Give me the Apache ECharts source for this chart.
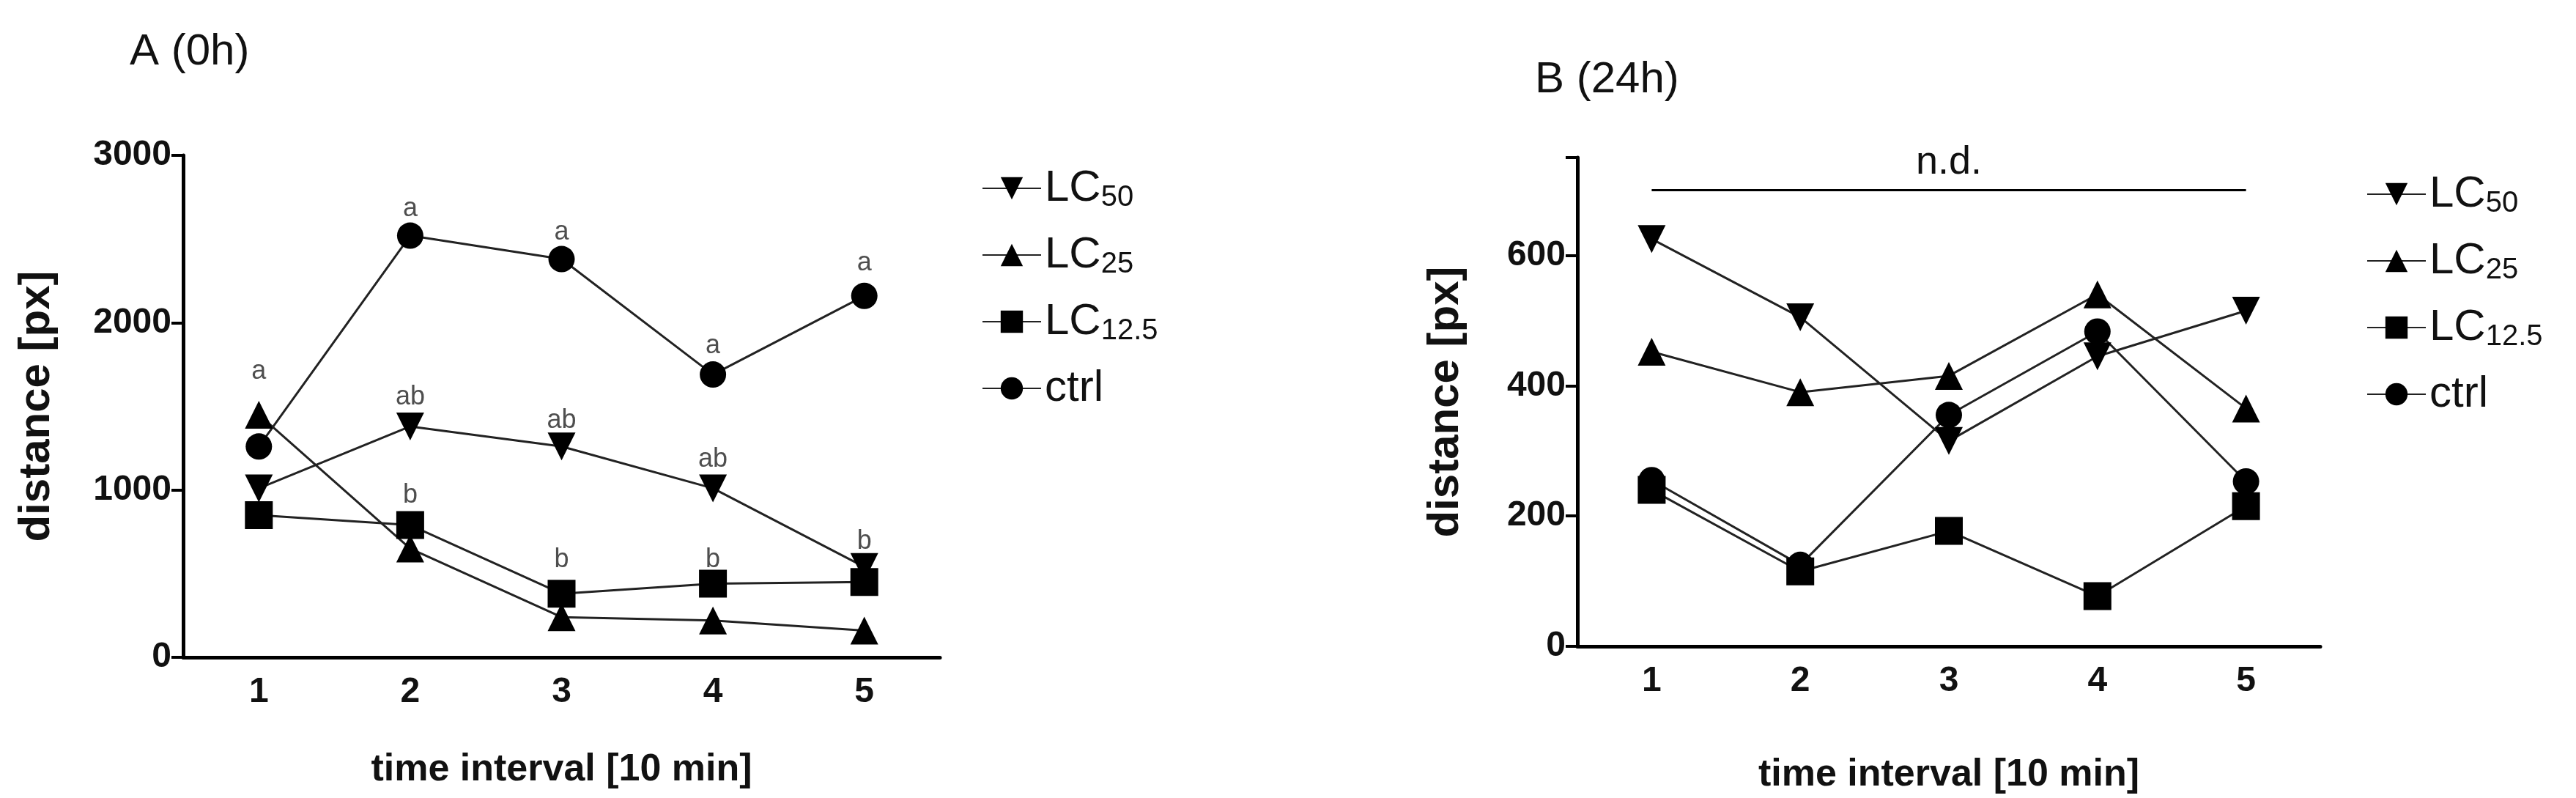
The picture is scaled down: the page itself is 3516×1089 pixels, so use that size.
<!DOCTYPE html>
<html lang="en">
<head>
<meta charset="UTF-8">
<script src="https://cdn.jsdelivr.net/npm/echarts@6/dist/echarts.min.js"></script>
<title>distance</title>
<style>html,body{margin:0;background:#fff}#main{width:3516px;height:1089px}</style>
</head>
<body>
<div id="main"></div>
<script>
var categories = ['1', '2', '3', '4', '5'];
var names = ['LC50', 'LC25', 'LC12.5', 'ctrl'];
// panel A (0h)
var a_lc50 = [1010, 1380, 1260, 1010, 540];
var a_lc25 = [1450, 650, 240, 220, 160];
var a_lc125 = [850, 790, 380, 440, 450];
var a_ctrl = [1260, 2520, 2380, 1690, 2160];
// significance letters for A: [category, y, text]
var a_letters = [['1', 1708, 'a'], ['2', 2680, 'a'], ['2', 1555, 'ab'], ['2', 968, 'b'],
  ['3', 2540, 'a'], ['3', 1415, 'ab'], ['3', 582, 'b'], ['4', 1861, 'a'], ['4', 1183, 'ab'],
  ['4', 582, 'b'], ['5', 2356, 'a'], ['5', 692, 'b']];
// panel B (24h)
var b_lc50 = [625, 505, 315, 445, 515];
var b_lc25 = [452, 390, 415, 540, 365];
var b_lc125 = [240, 115, 177, 77, 215];
var b_ctrl = [255, 125, 355, 483, 253];
var b_nd = 700;

var symbols = ['triangle', 'triangle', 'rect', 'circle'];
var rotates = [180, 0, 0, 0];

var font = '"Liberation Sans", Arial, sans-serif';
var narrow = '"Liberation Sans Narrow", "Liberation Sans", Arial, sans-serif';

function legendFmt(n) {
  if (n === 'ctrl') return '{m|ctrl}';
  return '{m|LC}{s|' + n.slice(2) + '}';
}

function makeSeries(sets, idx) {
  return sets.map(function (d, i) {
    return {
      name: names[i], type: 'line', data: d, xAxisIndex: idx, yAxisIndex: idx,
      symbol: symbols[i], symbolRotate: rotates[i], symbolSize: i === 3 ? 36 : 38,
      itemStyle: {color: '#000'}, lineStyle: {color: '#222', width: 3},
      z: 3
    };
  });
}

function xAx(idx, title) {
  return {
    type: 'category', gridIndex: idx, data: categories, boundaryGap: true,
    name: title, nameLocation: 'middle', nameGap: idx === 0 ? 128 : 150,
    nameTextStyle: {fontFamily: font, fontWeight: 'bold', fontSize: 52, color: '#111'},
    axisLine: {lineStyle: {color: '#000', width: 5}},
    axisTick: {alignWithLabel: true, length: 16, lineStyle: {color: '#000', width: 4}},
    axisLabel: {fontFamily: font, fontWeight: 'bold', fontSize: 48, color: '#111', margin: 24}
  };
}
function yAx(idx, max, interval) {
  return {
    type: 'value', gridIndex: idx, min: 0, max: max, interval: interval,
    name: 'distance [px]', nameLocation: 'middle', nameGap: idx === 0 ? 170 : 150,
    nameTextStyle: {fontFamily: font, fontWeight: 'bold', fontSize: 60, color: '#111'},
    splitLine: {show: false},
    axisLine: {show: true, lineStyle: {color: '#000', width: 5}},
    axisTick: {show: true, length: 16, lineStyle: {color: '#000', width: 4}},
    axisLabel: {fontFamily: font, fontWeight: 'bold', fontSize: 48, color: '#111', margin: 16,
      formatter: function (v) { return v > max - 1 && max % interval !== 0 ? '' : v; }}
  };
}

var rich = {m: {fontFamily: narrow, fontSize: 60, color: '#111'},
  s: {fontFamily: narrow, fontSize: 40, color: '#111', verticalAlign: 'bottom', padding: [26, 0, 0, 0]}};

var seriesA = makeSeries([a_lc50, a_lc25, a_lc125, a_ctrl], 0);
seriesA.push({
  type: 'scatter', xAxisIndex: 0, yAxisIndex: 0, symbolSize: 0, silent: true,
  data: a_letters.map(function (l) { return {value: [l[0], l[1]], label: {formatter: l[2]}}; }),
  label: {show: true, position: 'inside', fontFamily: narrow, fontSize: 36, color: '#222'}
});
var seriesB = makeSeries([b_lc50, b_lc25, b_lc125, b_ctrl], 1);
seriesB[0].markLine = {
  symbol: 'none', silent: true,
  lineStyle: {color: '#000', width: 3, type: 'solid'},
  label: {show: true, position: 'middle', formatter: 'n.d.', fontFamily: narrow, fontSize: 54, color: '#111', distance: 10},
  data: [[{coord: ['1', b_nd]}, {coord: ['5', b_nd]}]]
};

var chart = echarts.init(document.getElementById('main'));
chart.setOption({
  backgroundColor: '#fff',
  animation: false,
  title: [
    {text: 'A (0h)', left: 172, top: 36, textStyle: {fontFamily: narrow, fontWeight: 'normal', fontSize: 60, color: '#111'}},
    {text: 'B (24h)', left: 2090, top: 74, textStyle: {fontFamily: narrow, fontWeight: 'normal', fontSize: 60, color: '#111'}}
  ],
  grid: [
    {left: 250, top: 212, width: 1033, height: 685},
    {left: 2153, top: 215, width: 1014, height: 678}
  ],
  xAxis: [xAx(0, 'time interval [10 min]'), xAx(1, 'time interval [10 min]')],
  yAxis: [yAx(0, 3000, 1000), yAx(1, 750, 200)],
  legend: [
    {left: 1335, top: 222, orient: 'vertical', itemGap: 28, itemWidth: 80, itemHeight: 38,
      data: names, formatter: legendFmt, textStyle: {rich: rich}, selectedMode: false},
    {left: 3225, top: 230, orient: 'vertical', itemGap: 28, itemWidth: 80, itemHeight: 38,
      data: names, formatter: legendFmt, textStyle: {rich: rich}, selectedMode: false}
  ],
  series: seriesA.concat(seriesB)
});
</script>
</body>
</html>
